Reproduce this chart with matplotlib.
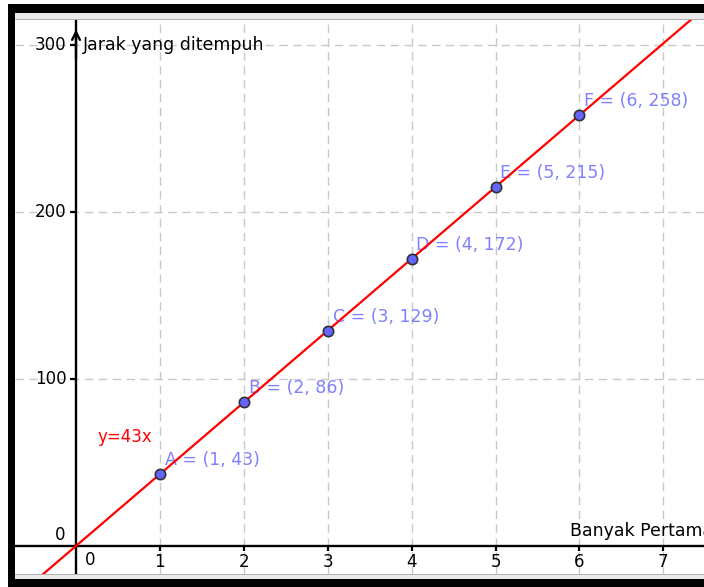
import matplotlib
matplotlib.use('Agg')
import matplotlib.pyplot as plt
from matplotlib.patches import Rectangle

# data
names = ['A', 'B', 'C', 'D', 'E', 'F']
x_vals = [1, 2, 3, 4, 5, 6]
y_vals = [43, 86, 129, 172, 215, 258]
slope = 43
x_ticks = [1, 2, 3, 4, 5, 6, 7]
y_ticks = [100, 200, 300]

W, H = 704, 587
fig = plt.figure(figsize=(W / 100, H / 100), dpi=100, facecolor='white')

# plot area in pixels
left_px, right_px, top_px, bot_px = 15, 704, 20, 574
ax = fig.add_axes([left_px / W, (H - bot_px) / H, (right_px - left_px) / W, (bot_px - top_px) / H])
ax.set_xlim(-0.727, 7.485)
ax.set_ylim(-16.8, 315)

fs = 12
txt_blue = '#8080ff'

# grid
ax.set_xticks(x_ticks)
ax.set_yticks(y_ticks)
ax.grid(True, ls=(0, (6, 4)), color='#c8c8c8', lw=1)
ax.set_axisbelow(True)

# axes through origin
for s in ['top', 'right', 'left']:
    ax.spines[s].set_visible(False)
ax.spines['bottom'].set_position(('data', 0))
ax.spines['bottom'].set_linewidth(1.7)
ax.axvline(0, color='black', lw=1.7, zorder=3)
ax.annotate('', xy=(0, 311), xytext=(0, 290),
            arrowprops=dict(arrowstyle='->', lw=1.7, color='black', mutation_scale=14))
ax.tick_params(axis='x', direction='out', length=3.5, width=1.6, labelsize=fs, pad=1.5)
ax.tick_params(axis='y', direction='out', length=5, width=1.6, labelsize=fs, pad=2, left=False)
ax.set_xticklabels([str(t) for t in x_ticks])
ax.set_yticklabels([])
for t in y_ticks:
    ax.plot([0], [t], marker=0, color='black', ms=4.5, mew=1.6, zorder=4, clip_on=False)
    ax.text(-0.11, t, str(t), ha='right', va='center', fontsize=fs)
ax.text(-0.13, 6.5, '0', ha='right', va='center', fontsize=fs)
ax.text(0.1, -8.5, '0', ha='left', va='center', fontsize=fs)

# axis labels
ax.text(0.08, 300, 'Jarak yang ditempuh', ha='left', va='center', fontsize=fs + 0.5)
ax.text(5.89, 9, 'Banyak Pertamax', ha='left', va='center', fontsize=fs + 0.5, clip_on=True)

# line y = 43x
ax.axline((0, 0), slope=slope, color='#ff0000', lw=1.6, zorder=5)
ax.text(0.25, 65, 'y=43x', color='#ff0000', ha='left', va='center', fontsize=fs)

# points
ax.scatter(x_vals, y_vals, s=55, color='#6464ff', edgecolors='#303030', linewidths=1.2, zorder=6)
for n, x, y in zip(names, x_vals, y_vals):
    ax.annotate(f'{n} = ({x}, {y})', (x, y), xytext=(3.5, 10), textcoords='offset points',
                ha='left', va='center', color=txt_blue, fontsize=fs + 0.5)

# window frame
def rect(x0, y0, x1, y1, color):
    fig.add_artist(Rectangle((x0 / W, 1 - y1 / H), (x1 - x0) / W, (y1 - y0) / H,
                             transform=fig.transFigure, color=color, lw=0, zorder=10))

rect(8, 4, 15, 587, 'black')
rect(8, 4, 704, 13, 'black')
rect(15, 13, 704, 20, '#ebebeb')
rect(15, 19, 704, 20, '#b0b0b0')
rect(15, 574, 704, 579, '#ebebeb')
rect(15, 574, 704, 575, '#b0b0b0')
rect(8, 579, 704, 587, 'black')

fig.savefig('out.png', dpi=100, facecolor='white')
